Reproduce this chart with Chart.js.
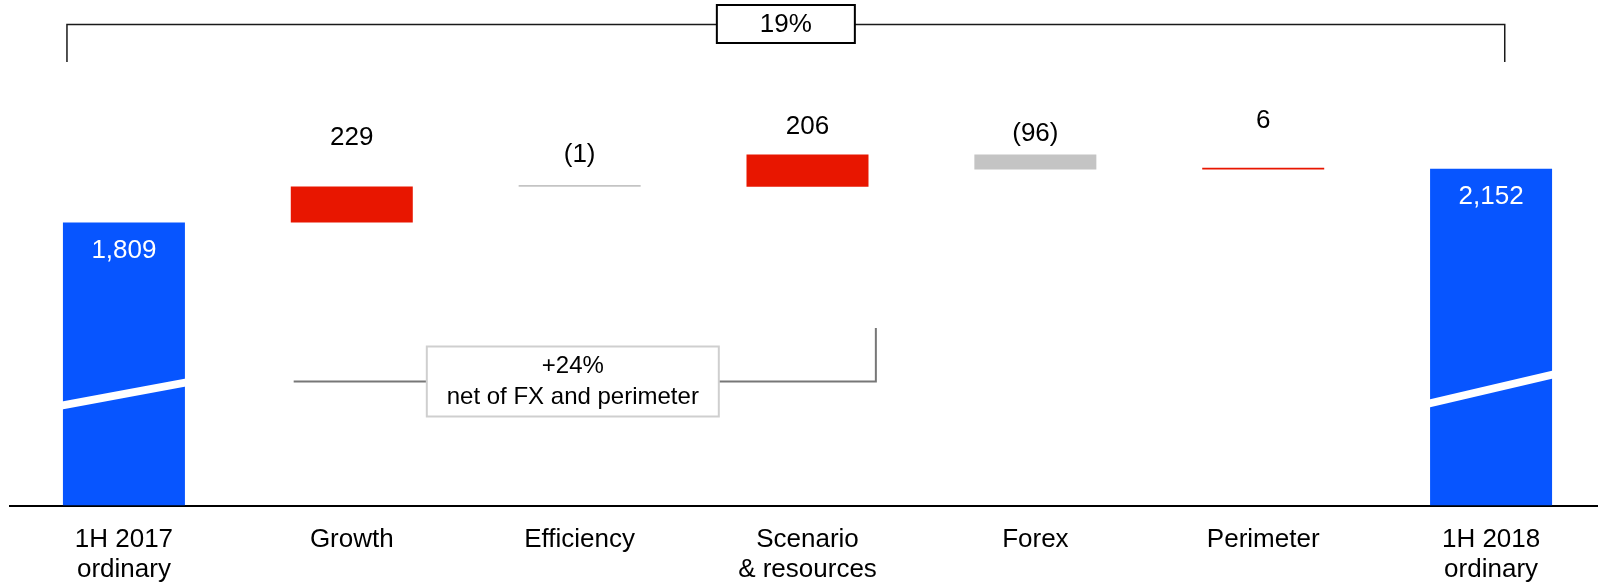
<!DOCTYPE html>
<html>
<head>
<meta charset="utf-8">
<script src="https://cdn.jsdelivr.net/npm/chart.js@4.4.1/dist/chart.umd.min.js"></script>
<style>
  html, body { margin: 0; padding: 0; background: #fff; overflow: hidden; }
  #wrap { width: 1605px; height: 584px; }
</style>
</head>
<body>
<div id="wrap"><canvas id="c" width="1605" height="584"></canvas></div>
<script>
// Operating result bridge, 1H 2017 -> 1H 2018
const categories = [
  ["1H 2017", "ordinary"], "Growth", "Efficiency",
  ["Scenario", "& resources"], "Forex", "Perimeter",
  ["1H 2018", "ordinary"]
];
const openingTotal = 1809;
const changes = [229, -1, 206, -96, 6];   // Growth, Efficiency, Scenario, Forex, Perimeter
const closingTotal = 2152;
const fxIndex = 3;        // position of Forex inside `changes`
const perimeterIndex = 4; // position of Perimeter inside `changes`

// Colours
const BLUE = "#0755ff";
const RED = "#e81600";
const GREY = "#c4c4c4";
const FONT = "'Liberation Sans', Arial, sans-serif";

// Floating bars: totals start from zero, changes start where the previous one ended
const bars = [[0, openingTotal]];
let running = openingTotal;
changes.forEach(v => { bars.push([running, running + v]); running += v; });
bars.push([0, closingTotal]);

const barColors = bars.map((b, i) =>
  (i === 0 || i === bars.length - 1) ? BLUE : (b[1] >= b[0] ? RED : GREY));

const fmt = v => {
  const s = Math.abs(v).toLocaleString("en-US");
  return v < 0 ? "(" + s + ")" : s;
};
const valueLabels = [openingTotal, ...changes, closingTotal].map(fmt);

const totalGrowth = Math.round((closingTotal / openingTotal - 1) * 100);
const organicGrowth = Math.round(
  ((closingTotal - changes[fxIndex] - changes[perimeterIndex]) / openingTotal - 1) * 100);

// Label placement: gap (px) between bar top and label centre; totals are labelled inside
const labelGaps = [null, 49, 30, 28, 21, 47, null];
const insideGap = 28;
// Axis-break slashes on the total bars: heights above the baseline at left/right edge
const slashes = { 0: [100, 123], 6: [102, 131] };

const annotations = {
  id: "annotations",
  afterDatasetsDraw(chart) {
    const ctx = chart.ctx;
    const meta = chart.getDatasetMeta(0);
    const xs = chart.scales.x;
    const area = chart.chartArea;
    const catW = (area.right - area.left) / categories.length;
    const cx = (i, off) => xs.getPixelForValue(i) + off * catW;

    ctx.save();
    // axis-break slashes
    Object.keys(slashes).forEach(k => {
      const bar = meta.data[+k];
      const half = bar.width / 2;
      const [hl, hr] = slashes[k];
      const base = bar.base, t = 4;
      ctx.fillStyle = "#fff";
      ctx.beginPath();
      ctx.moveTo(bar.x - half - 1, base - hl - t);
      ctx.lineTo(bar.x + half + 1, base - hr - t);
      ctx.lineTo(bar.x + half + 1, base - hr + t);
      ctx.lineTo(bar.x - half - 1, base - hl + t);
      ctx.closePath();
      ctx.fill();
    });

    // value labels
    ctx.font = "26px " + FONT;
    ctx.textAlign = "center";
    ctx.textBaseline = "middle";
    meta.data.forEach((bar, i) => {
      const top = Math.min(bar.y, bar.base);
      if (labelGaps[i] === null) {
        ctx.fillStyle = "#fff";
        ctx.fillText(valueLabels[i], bar.x, top + insideGap);
      } else {
        ctx.fillStyle = "#000";
        ctx.fillText(valueLabels[i], bar.x, top - labelGaps[i]);
      }
    });

    // overall change bracket
    const xl = cx(0, -0.25), xr = cx(6, 0.06);
    const yTop = area.top + 24.5, yLeg = area.top + 62;
    ctx.strokeStyle = "#1a1a1a";
    ctx.lineWidth = 1.5;
    ctx.beginPath();
    ctx.moveTo(xl, yLeg); ctx.lineTo(xl, yTop); ctx.lineTo(xr, yTop); ctx.lineTo(xr, yLeg);
    ctx.stroke();
    const bxc = (xl + xr) / 2, bw = 138, bh = 38, by = area.top + 5;
    ctx.fillStyle = "#fff";
    ctx.fillRect(bxc - bw / 2, by, bw, bh);
    ctx.strokeStyle = "#000";
    ctx.lineWidth = 2;
    ctx.strokeRect(bxc - bw / 2, by, bw, bh);
    ctx.fillStyle = "#000";
    ctx.font = "26px " + FONT;
    ctx.fillText(totalGrowth + "%", bxc, by + bh / 2 + 1);

    // organic change bracket
    const gl = cx(1, -0.255), gr = cx(3, 0.30);
    const gy = area.top + 381.5, gLegTop = area.top + 328;
    ctx.strokeStyle = "#777";
    ctx.lineWidth = 2;
    ctx.beginPath();
    ctx.moveTo(gl, gy); ctx.lineTo(gr, gy); ctx.lineTo(gr, gLegTop);
    ctx.stroke();
    const gbc = cx(2, -0.03), gbw = 292, gbh = 70, gby = area.top + 346.5;
    ctx.fillStyle = "#fff";
    ctx.fillRect(gbc - gbw / 2, gby, gbw, gbh);
    ctx.strokeStyle = "#cfcfcf";
    ctx.strokeRect(gbc - gbw / 2, gby, gbw, gbh);
    ctx.fillStyle = "#000";
    ctx.font = "24px " + FONT;
    ctx.fillText("+" + organicGrowth + "%", gbc, gby + 20);
    ctx.fillText("net of FX and perimeter", gbc, gby + 51);
    ctx.restore();
  }
};

new Chart(document.getElementById("c"), {
  type: "bar",
  data: {
    labels: categories,
    datasets: [{
      data: bars,
      backgroundColor: barColors,
      borderWidth: 0,
      barPercentage: 1,
      categoryPercentage: 0.5354,
      minBarLength: 1.8
    }]
  },
  options: {
    responsive: false,
    animation: false,
    devicePixelRatio: 1,
    layout: { padding: { left: 10, right: 0, top: 0, bottom: 0 } },
    plugins: { legend: { display: false }, tooltip: { enabled: false } },
    scales: {
      x: {
        z: 1,
        grid: { display: false },
        border: { display: true, color: "#000", width: 2 },
        ticks: {
          color: "#000",
          font: { family: FONT, size: 26, lineHeight: 1.15 },
          padding: 11,
          maxRotation: 0,
          autoSkip: false
        },
        afterFit(scale) { scale.height = 78.5; }
      },
      y: {
        display: false,
        min: 0,
        max: 3230
      }
    }
  },
  plugins: [annotations]
});
</script>
</body>
</html>
